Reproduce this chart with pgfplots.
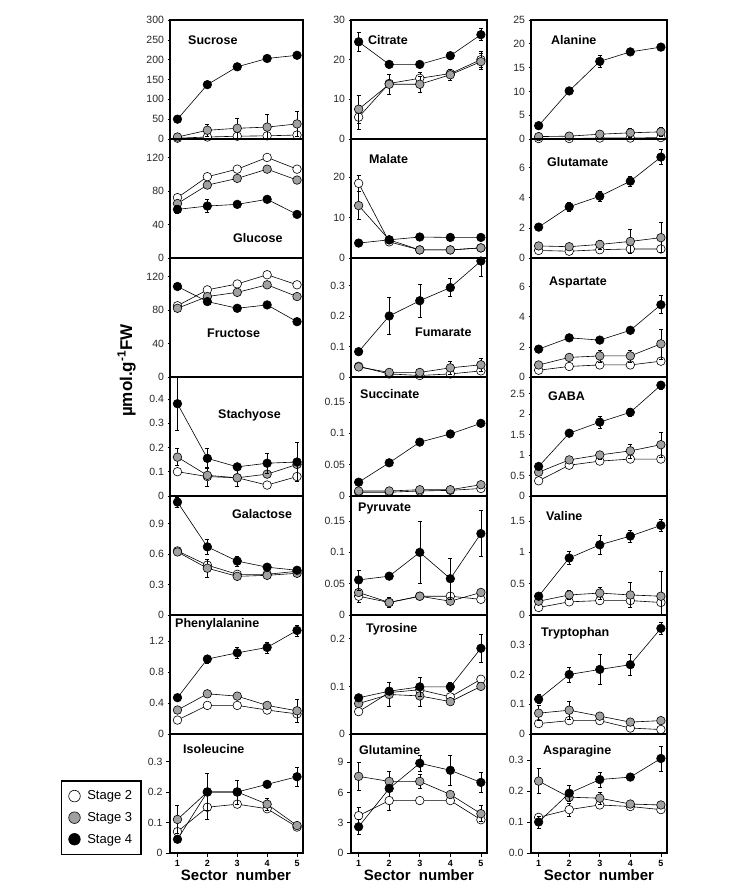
\documentclass[border=0pt]{standalone}
\usepackage{pgfplots}
\pgfplotsset{compat=1.18}
\usepackage{fontspec}
\setmainfont{Liberation Sans}
\definecolor{stgray}{RGB}{160,160,160}
\definecolor{ticktext}{RGB}{40,40,40}
\pgfplotsset{
  panel/.style={scale only axis, height=119pt, xmin=0.75, xmax=5.2, ymin=0,
    axis line style={line width=1.5pt}, xtick=\empty, ytick pos=left, tick align=outside,
    major tick length=2.5pt, tick style={line width=0.6pt, black},
    yticklabel style={font=\fontsize{10.5}{12}\selectfont, text=ticktext, /pgf/number format/fixed},
    scaled y ticks=false, /pgf/number format/assume math mode=true,
    anchor=south west, clip mode=individual},
  c1/.style={width=133pt}, c2/.style={width=136pt}, c3/.style={width=136pt},
  bot/.style={xtick={1,2,3,4,5}, xtick pos=bottom, major tick length=4pt,
    xticklabel style={font=\bfseries\fontsize{9}{10}\selectfont}},
  sbase/.style={black, line width=0.6pt, mark=*, mark size=4.3pt,
    error bars/y dir=both, error bars/y explicit, error bars/error bar style={line width=0.5pt, black},
    error bars/error mark options={rotate=90, mark size=2pt, line width=0.5pt, black}},
  s2/.style={sbase, mark options={fill=white, draw=black, line width=0.6pt}},
  s3/.style={sbase, mark options={fill=stgray, draw=black, line width=0.6pt}},
  s4/.style={sbase, mark options={fill=black, draw=black, line width=0.6pt}},
}
\newcommand{\ttl}[3]{\node[anchor=base west, font=\bfseries\fontsize{12.5}{14}\selectfont, inner sep=0pt] at (#1pt,#2pt) {#3};}
\begin{document}
\begin{tikzpicture}[x=1pt,y=1pt]
\useasboundingbox (0,0) rectangle (746,889);
% ---------------- Column 1 ----------------
\begin{axis}[panel, c1, at={(170pt,750pt)}, ymax=300, ytick={0,50,100,150,200,250,300}]
\addplot+[s2] coordinates {(1,2)(2,5)(3,7)(4,8)(5,10)};
\addplot+[s3] coordinates {(1,5)(2,22)+-(0,15)(3,27)+-(0,25)(4,30)+-(0,32)(5,38)+-(0,32)};
\addplot+[s4] coordinates {(1,50)(2,137)(3,182)(4,203)(5,211)};
\end{axis}
\begin{axis}[panel, c1, at={(170pt,631pt)}, ymax=142, ytick={0,40,80,120}]
\addplot+[s2] coordinates {(1,72)(2,97)(3,106)(4,120)(5,106)};
\addplot+[s3] coordinates {(1,65)(2,87)(3,95)(4,106)(5,93)};
\addplot+[s4] coordinates {(1,58)+-(0,5)(2,62)+-(0,8)(3,64)(4,70)(5,52)};
\end{axis}
\begin{axis}[panel, c1, at={(170pt,512pt)}, ymax=142, ytick={0,40,80,120}]
\addplot+[s2] coordinates {(1,85)(2,104)(3,111)(4,122)(5,110)};
\addplot+[s3] coordinates {(1,82)(2,96)(3,101)(4,110)(5,96)};
\addplot+[s4] coordinates {(1,108)(2,90)(3,82)(4,86)(5,66)};
\end{axis}
\begin{axis}[panel, c1, at={(170pt,393pt)}, ymax=0.49, ytick={0,0.1,0.2,0.3,0.4}]
\addplot+[s2] coordinates {(1,0.10)(2,0.08)+-(0,0.04)(3,0.075)+-(0,0.035)(4,0.045)(5,0.08)};
\addplot+[s3] coordinates {(1,0.16)+-(0,0.035)(2,0.085)(3,0.075)(4,0.09)(5,0.13)};
\addplot+[s4] coordinates {(1,0.38)+-(0,0.11)(2,0.155)+-(0,0.04)(3,0.12)(4,0.135)+-(0,0.04)(5,0.14)+-(0,0.08)};
\end{axis}
\begin{axis}[panel, c1, at={(170pt,274pt)}, ymax=1.17, ytick={0,0.3,0.6,0.9}]
\addplot+[s2] coordinates {(1,0.63)(2,0.49)(3,0.40)(4,0.40)(5,0.43)};
\addplot+[s3] coordinates {(1,0.62)(2,0.46)+-(0,0.09)(3,0.38)(4,0.39)(5,0.41)};
\addplot+[s4] coordinates {(1,1.11)+-(0,0.05)(2,0.67)+-(0,0.07)(3,0.53)+-(0,0.05)(4,0.47)(5,0.44)};
\end{axis}
\begin{axis}[panel, c1, at={(170pt,155pt)}, ymax=1.54, ytick={0,0.4,0.8,1.2}]
\addplot+[s2] coordinates {(1,0.18)(2,0.37)(3,0.37)(4,0.31)(5,0.26)};
\addplot+[s3] coordinates {(1,0.31)(2,0.52)(3,0.49)(4,0.37)(5,0.30)+-(0,0.15)};
\addplot+[s4] coordinates {(1,0.47)(2,0.97)+-(0,0.05)(3,1.05)+-(0,0.07)(4,1.12)+-(0,0.07)(5,1.34)+-(0,0.07)};
\end{axis}
\begin{axis}[panel, c1, bot, at={(170pt,36pt)}, ymax=0.39, ytick={0,0.1,0.2,0.3},
  legend style={at={(-0.82,0.613)}, anchor=north west, draw=black, line width=1.5pt,
    font=\fontsize{13}{14}\selectfont, inner xsep=7pt, inner ysep=8pt, row sep=7pt,
    cells={anchor=west}, /tikz/every odd column/.append style={column sep=5pt}}]
\addlegendimage{only marks, mark=*, mark size=5.8pt, mark options={fill=white, draw=black, line width=0.6pt}}
\addlegendimage{only marks, mark=*, mark size=5.8pt, mark options={fill=stgray, draw=black, line width=0.6pt}}
\addlegendimage{only marks, mark=*, mark size=5.8pt, mark options={fill=black, draw=black, line width=0.6pt}}
\legend{Stage 2, Stage 3, Stage 4}
\addplot+[s2] coordinates {(1,0.07)(2,0.15)+-(0,0.04)(3,0.16)(4,0.145)(5,0.085)};
\addplot+[s3] coordinates {(1,0.11)+-(0,0.045)(2,0.20)(3,0.20)(4,0.16)+-(0,0.02)(5,0.09)};
\addplot+[s4] coordinates {(1,0.045)(2,0.20)+-(0,0.06)(3,0.20)+-(0,0.04)(4,0.225)(5,0.25)+-(0,0.03)};
\end{axis}
% ---------------- Column 2 ----------------
\begin{axis}[panel, c2, at={(351pt,750pt)}, ymax=30, ytick={0,10,20,30}]
\addplot+[s2] coordinates {(1,5.5)+-(0,3)(2,14)(3,15.3)+-(0,1.5)(4,16.5)(5,20)+-(0,2)};
\addplot+[s3] coordinates {(1,7.5)+-(0,3.5)(2,13.8)+-(0,2.5)(3,13.8)+-(0,2)(4,16.2)+-(0,1.5)(5,19.5)+-(0,2)};
\addplot+[s4] coordinates {(1,24.5)+-(0,2.5)(2,18.8)(3,18.8)(4,21)(5,26.3)+-(0,1.5)};
\end{axis}
\begin{axis}[panel, c2, at={(351pt,631pt)}, ymax=29.5, ytick={0,10,20}]
\addplot+[s2] coordinates {(1,18.5)+-(0,2)(2,4)(3,2)(4,2)(5,2.5)};
\addplot+[s3] coordinates {(1,13)+-(0,3.5)(2,4.5)(3,2)(4,2)(5,2.5)};
\addplot+[s4] coordinates {(1,3.7)(2,4.5)(3,5.2)(4,5.1)(5,5.1)};
\end{axis}
\begin{axis}[panel, c2, at={(351pt,512pt)}, ymax=0.39, ytick={0,0.1,0.2,0.3}]
\addplot+[s2] coordinates {(1,0.035)(2,0.01)(3,0.005)(4,0.01)(5,0.02)};
\addplot+[s3] coordinates {(1,0.033)(2,0.015)(3,0.015)(4,0.03)+-(0,0.02)(5,0.04)+-(0,0.02)};
\addplot+[s4] coordinates {(1,0.083)(2,0.20)+-(0,0.06)(3,0.25)+-(0,0.055)(4,0.293)+-(0,0.03)(5,0.38)+-(0,0.05)};
\end{axis}
\begin{axis}[panel, c2, at={(351pt,393pt)}, ymax=0.19, ytick={0,0.05,0.1,0.15}]
\addplot+[s2] coordinates {(1,0.006)(2,0.006)(3,0.008)(4,0.009)(5,0.012)};
\addplot+[s3] coordinates {(1,0.008)(2,0.008)(3,0.01)(4,0.01)(5,0.018)};
\addplot+[s4] coordinates {(1,0.022)(2,0.053)(3,0.086)(4,0.099)(5,0.116)};
\end{axis}
\begin{axis}[panel, c2, at={(351pt,274pt)}, ymax=0.19, ytick={0,0.05,0.1,0.15}]
\addplot+[s2] coordinates {(1,0.03)+-(0,0.01)(2,0.02)(3,0.03)(4,0.03)(5,0.025)};
\addplot+[s3] coordinates {(1,0.036)(2,0.02)+-(0,0.008)(3,0.03)(4,0.022)(5,0.036)};
\addplot+[s4] coordinates {(1,0.056)+-(0,0.016)(2,0.062)(3,0.10)+-(0,0.05)(4,0.058)+-(0,0.033)(5,0.13)+-(0,0.037)};
\end{axis}
\begin{axis}[panel, c2, at={(351pt,155pt)}, ymax=0.25, ytick={0,0.1,0.2}]
\addplot+[s2] coordinates {(1,0.047)(2,0.087)(3,0.093)(4,0.078)(5,0.115)};
\addplot+[s3] coordinates {(1,0.064)(2,0.083)+-(0,0.025)(3,0.08)+-(0,0.022)(4,0.068)(5,0.10)};
\addplot+[s4] coordinates {(1,0.076)(2,0.09)(3,0.099)+-(0,0.02)(4,0.099)+-(0,0.01)(5,0.18)+-(0,0.03)};
\end{axis}
\begin{axis}[panel, c2, bot, at={(351pt,36pt)}, ymax=11.8, ytick={0,3,6,9}]
\addplot+[s2] coordinates {(1,3.7)+-(0,0.8)(2,5.2)+-(0,1)(3,5.2)(4,5.2)(5,3.3)};
\addplot+[s3] coordinates {(1,7.6)+-(0,1.4)(2,7.1)+-(0,1)(3,7.1)+-(0,0.7)(4,5.8)(5,3.9)+-(0,0.8)};
\addplot+[s4] coordinates {(1,2.6)+-(0,0.7)(2,6.4)(3,8.9)+-(0,0.8)(4,8.2)+-(0,1.5)(5,7.0)+-(0,1)};
\end{axis}
% ---------------- Column 3 ----------------
\begin{axis}[panel, c3, at={(531pt,750pt)}, ymax=25, ytick={0,5,10,15,20,25}]
\addplot+[s2] coordinates {(1,0.1)(2,0.1)(3,0.2)(4,0.2)(5,0.3)};
\addplot+[s3] coordinates {(1,0.5)(2,0.6)(3,1.0)(4,1.3)+-(0,1)(5,1.5)+-(0,1)};
\addplot+[s4] coordinates {(1,2.8)(2,10.1)(3,16.3)+-(0,1.2)(4,18.3)(5,19.3)};
\end{axis}
\begin{axis}[panel, c3, at={(531pt,631pt)}, ymax=7.9, ytick={0,2,4,6}]
\addplot+[s2] coordinates {(1,0.5)(2,0.45)(3,0.55)(4,0.6)(5,0.6)};
\addplot+[s3] coordinates {(1,0.8)(2,0.75)(3,0.9)+-(0,0.3)(4,1.1)+-(0,0.8)(5,1.35)+-(0,1)};
\addplot+[s4] coordinates {(1,2.05)(2,3.4)+-(0,0.3)(3,4.1)+-(0,0.3)(4,5.1)+-(0,0.35)(5,6.7)+-(0,0.5)};
\end{axis}
\begin{axis}[panel, c3, at={(531pt,512pt)}, ymax=7.9, ytick={0,2,4,6}]
\addplot+[s2] coordinates {(1,0.45)(2,0.7)(3,0.8)(4,0.8)(5,1.05)};
\addplot+[s3] coordinates {(1,0.8)(2,1.3)(3,1.4)+-(0,0.4)(4,1.4)+-(0,0.4)(5,2.2)+-(0,1)};
\addplot+[s4] coordinates {(1,1.85)(2,2.6)(3,2.45)(4,3.1)(5,4.8)+-(0,0.6)};
\end{axis}
\begin{axis}[panel, c3, at={(531pt,393pt)}, ymax=2.9, ytick={0,0.5,1,1.5,2,2.5}]
\addplot+[s2] coordinates {(1,0.37)(2,0.75)(3,0.85)(4,0.9)(5,0.9)};
\addplot+[s3] coordinates {(1,0.58)(2,0.88)(3,1.0)+-(0,0.1)(4,1.1)+-(0,0.17)(5,1.25)+-(0,0.3)};
\addplot+[s4] coordinates {(1,0.72)(2,1.53)(3,1.8)+-(0,0.15)(4,2.04)+-(0,0.1)(5,2.7)+-(0,0.1)};
\end{axis}
\begin{axis}[panel, c3, at={(531pt,274pt)}, ymax=1.9, ytick={0,0.5,1,1.5}]
\addplot+[s2] coordinates {(1,0.12)(2,0.21)(3,0.23)(4,0.23)(5,0.2)};
\addplot+[s3] coordinates {(1,0.22)(2,0.32)+-(0,0.07)(3,0.35)+-(0,0.1)(4,0.32)+-(0,0.2)(5,0.3)+-(0,0.4)};
\addplot+[s4] coordinates {(1,0.3)(2,0.91)+-(0,0.1)(3,1.12)+-(0,0.15)(4,1.26)+-(0,0.1)(5,1.43)+-(0,0.1)};
\end{axis}
\begin{axis}[panel, c3, at={(531pt,155pt)}, ymax=0.40, ytick={0,0.1,0.2,0.3}]
\addplot+[s2] coordinates {(1,0.035)(2,0.045)(3,0.045)(4,0.02)(5,0.015)};
\addplot+[s3] coordinates {(1,0.07)+-(0,0.025)(2,0.08)+-(0,0.03)(3,0.06)(4,0.04)(5,0.045)};
\addplot+[s4] coordinates {(1,0.117)+-(0,0.015)(2,0.20)+-(0,0.025)(3,0.217)+-(0,0.05)(4,0.233)+-(0,0.035)(5,0.355)+-(0,0.02)};
\end{axis}
\begin{axis}[panel, c3, bot, at={(531pt,36pt)}, ymax=0.384, ytick={0,0.1,0.2,0.3},
  yticklabel style={/pgf/number format/.cd, fixed, fixed zerofill, precision=1}]
\addplot+[s2] coordinates {(1,0.115)(2,0.14)+-(0,0.02)(3,0.155)(4,0.15)(5,0.14)};
\addplot+[s3] coordinates {(1,0.232)+-(0,0.04)(2,0.18)(3,0.177)+-(0,0.02)(4,0.158)(5,0.155)};
\addplot+[s4] coordinates {(1,0.1)+-(0,0.02)(2,0.193)+-(0,0.025)(3,0.237)+-(0,0.025)(4,0.245)(5,0.305)+-(0,0.04)};
\end{axis}
% ---------------- Titles ----------------
\ttl{188}{844.5}{Sucrose}
\ttl{233}{646.5}{Glucose}
\ttl{207}{551.5}{Fructose}
\ttl{218}{470.5}{Stachyose}
\ttl{232}{370.5}{Galactose}
\ttl{175}{261.5}{Phenylalanine}
\ttl{183}{135.5}{Isoleucine}
\ttl{368}{844.5}{Citrate}
\ttl{369}{725.5}{Malate}
\ttl{415}{552.5}{Fumarate}
\ttl{360}{490.5}{Succinate}
\ttl{358}{377.5}{Pyruvate}
\ttl{366}{256.5}{Tyrosine}
\ttl{359}{134.5}{Glutamine}
\ttl{551}{844.5}{Alanine}
\ttl{547}{722.5}{Glutamate}
\ttl{549}{603.5}{Aspartate}
\ttl{548}{488.5}{GABA}
\ttl{546}{368.5}{Valine}
\ttl{541}{252.5}{Tryptophan}
\ttl{543}{134.5}{Asparagine}
% ---------------- Axis labels ----------------
\node[rotate=90, anchor=base west, font=\bfseries\fontsize{17}{18}\selectfont, inner sep=0pt] at (132,472) {µmol.g\textsuperscript{-1}FW};
\node[font=\bfseries\fontsize{15}{16}\selectfont] at (236,14) {Sector\ \ number};
\node[font=\bfseries\fontsize{15}{16}\selectfont] at (419,14) {Sector\ \ number};
\node[font=\bfseries\fontsize{15}{16}\selectfont] at (599,14) {Sector\ \ number};
\end{tikzpicture}
\end{document}
